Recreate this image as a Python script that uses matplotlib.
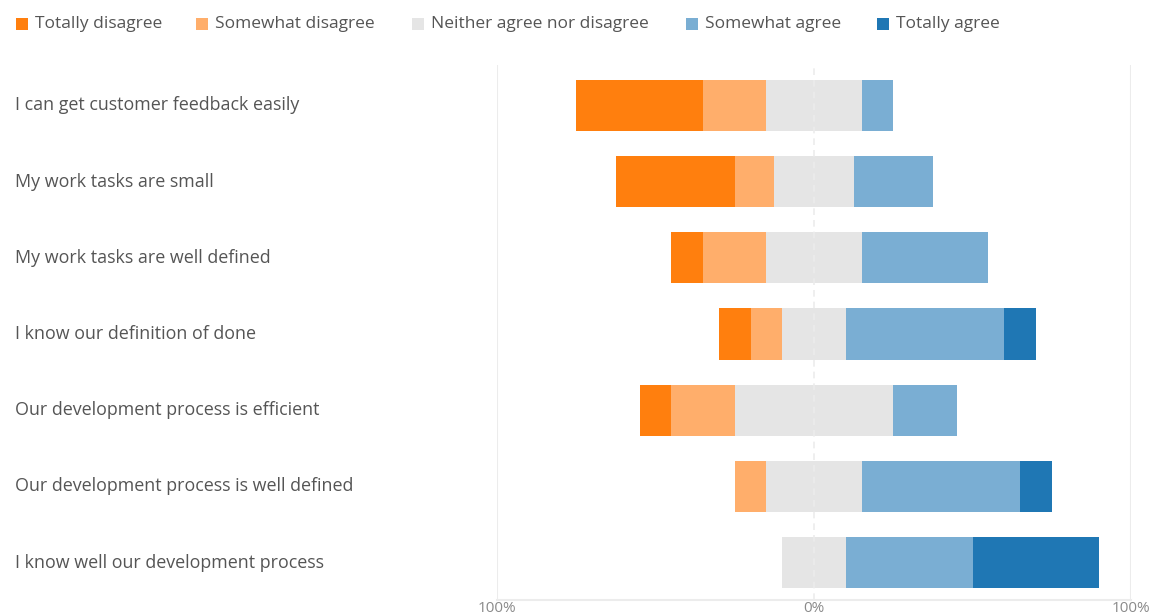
import matplotlib
matplotlib.use("Agg")
import matplotlib.pyplot as plt
import matplotlib.transforms as mtransforms
from matplotlib.patches import Rectangle
import numpy as np

plt.rcParams['font.family'] = ['Open Sans', 'DejaVu Sans']

questions = [
    "I can get customer feedback easily",
    "My work tasks are small",
    "My work tasks are well defined",
    "I know our definition of done",
    "Our development process is efficient",
    "Our development process is well defined",
    "I know well our development process",
]
levels = ["Totally disagree", "Somewhat disagree", "Neither agree nor disagree",
          "Somewhat agree", "Totally agree"]
colors = ["#ff7f0e", "#ffae6b", "#e5e5e5", "#7aaed3", "#1f77b4"]

totally_disagree = [40, 37.5, 10, 10, 10, 0, 0]
somewhat_disagree = [20, 12.5, 20, 10, 20, 10, 0]
neutral = [30, 25, 30, 20, 50, 30, 20]
somewhat_agree = [10, 25, 40, 50, 20, 50, 40]
totally_agree = [0, 0, 0, 10, 0, 10, 40]

tick_vals = [-100, 0, 100]
tick_labels = ["100%", "0%", "100%"]

W, H = 1166, 616
fig = plt.figure(figsize=(W / 100, H / 100), dpi=100)
ax = fig.add_axes([497 / W, (H - 600) / H, (1131 - 497) / W, (600 - 65) / H])

series = np.array([totally_disagree, somewhat_disagree, neutral, somewhat_agree, totally_agree], dtype=float)
y = np.arange(len(questions))
start = -(series[0] + series[1] + series[2] / 2)
left = start.copy()
for i in range(len(levels)):
    ax.barh(y, series[i], left=left, height=0.67, color=colors[i], zorder=2, linewidth=0)
    left = left + series[i]

ax.set_xlim(-100, 100)
ax.set_ylim(len(questions) - 0.51, -0.53)
for v in (-100, 100):
    ax.axvline(v, color="#ececec", lw=1.5, zorder=1)
ax.axvline(0, color="#ececec", lw=1.2, ls=(0, (4, 3)), zorder=3)

for s in ("top", "right", "left"):
    ax.spines[s].set_visible(False)
ax.spines["bottom"].set_color("#ececec")
ax.spines["bottom"].set_linewidth(1.5)
ax.set_xticks(tick_vals)
ax.set_xticklabels(tick_labels, fontsize=11, color="#8a8a8a")
ax.tick_params(axis="x", length=0, pad=0.5)
ax.set_yticks([])

trans = mtransforms.blended_transform_factory(fig.transFigure, ax.transData)
for yi, q in zip(y, questions):
    ax.text(15 / W, yi, q, transform=trans, ha="left", va="center",
            fontsize=12.9, color="#555555", clip_on=False)

# legend
sq_x = [16, 196, 412, 686, 877]
for xx, lab, c in zip(sq_x, levels, colors):
    fig.add_artist(Rectangle((xx / W, (H - 30) / H), 12 / W, 12 / H,
                             transform=fig.transFigure, color=c, lw=0))
    fig.text((xx + 19) / W, (H - 24) / H, lab, ha="left", va="center",
             fontsize=12.5, color="#555555")

fig.savefig("out.png", dpi=100)
